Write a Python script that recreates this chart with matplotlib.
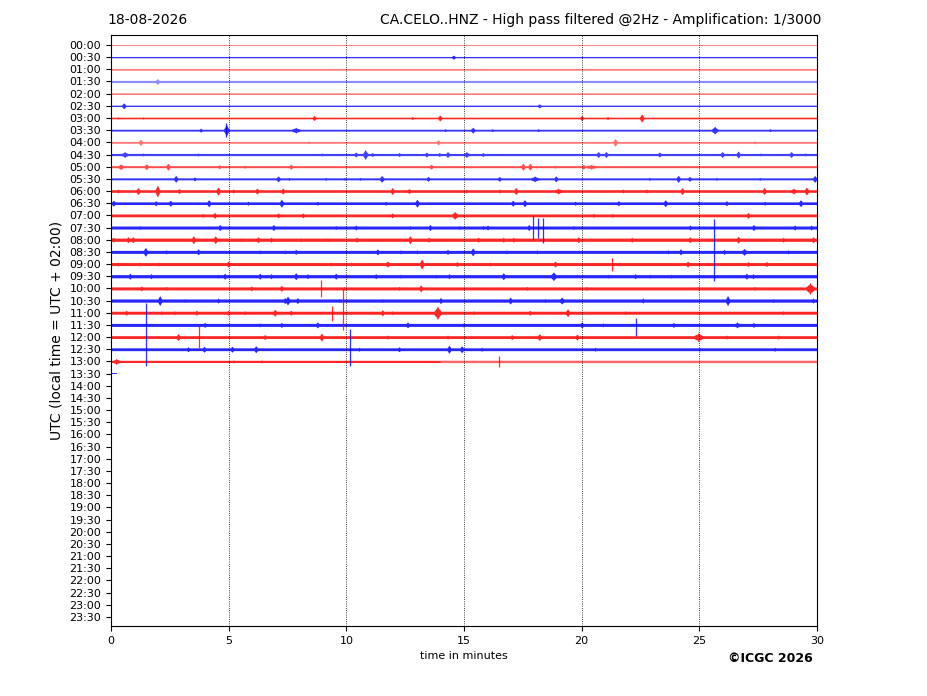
import numpy as np
import matplotlib
matplotlib.use("Agg")
import matplotlib.pyplot as plt

DATE_TEXT = "18-08-2026"
TITLE_TEXT = "CA.CELO..HNZ - High pass filtered @2Hz - Amplification: 1/3000"
YLABEL = "UTC (local time = UTC + 02:00)"
XLABEL = "time in minutes"
CREDIT = "\u00a9ICGC 2026"

ROW_LABELS = ["%02d:%02d" % (h, m) for h in range(24) for m in (0, 30)]
X_TICKS = [0, 5, 10, 15, 20, 25, 30]
ROW_COLORS = ["#ff0000", "#0000ff"]

# background noise half-amplitude per recorded row (00:00 ... 13:30)
ROW_NOISE = [0.5, 0.6, 0.9, 1.1, 0.8, 0.7, 0.8, 0.9, 0.9, 1.1, 1.0, 1.0, 1.3, 1.3,
             1.4, 1.5, 1.6, 1.5, 1.5, 1.6, 1.5, 1.6, 1.5, 1.5, 1.4, 1.4, 1.1, 0.8]
ROW_ALPHA = [0.5, 0.85, 0.5, 0.45, 0.55, 0.8, 0.85, 0.8, 0.55, 0.75, 0.7, 0.8, 0.85, 0.85,
             0.85, 0.85, 0.85, 0.85, 0.85, 0.85, 0.85, 0.85, 0.85, 0.85, 0.85, 0.85, 0.85, 0.8]
ROW_END = [30.0] * 27 + [0.25]
QUIET_13_00 = (14.0, 1.2, 0.6)   # row 13:00: quieter/paler after this minute

# events: (minute, half-amplitude, duration in minutes)
EV_0000 = []
EV_0030 = [(14.55, 2.0, 0.15)]
EV_0100 = []
EV_0130 = [(1.97, 3.0, 0.2)]
EV_0200 = []
EV_0230 = [(0.54, 3.0, 0.2), (18.2, 2.0, 0.1)]
EV_0300 = [(0.3, 1.2, 0.1), (1.36, 1.2, 0.1), (8.63, 2.5, 0.15), (12.8, 1.5, 0.1),
           (13.97, 3.0, 0.2), (20.0, 2.5, 0.2), (21.1, 1.5, 0.2), (22.55, 4.0, 0.15)]
EV_0330 = [(3.81, 2.0, 0.12), (4.9, 6.0, 0.3), (7.85, 3.0, 0.6), (14.2, 1.5, 0.15),
           (15.37, 3.0, 0.3), (16.2, 1.5, 0.2), (18.15, 1.5, 0.2), (25.65, 4.0, 0.4),
           (28.0, 1.5, 0.1)]
EV_0400 = [(1.25, 3.0, 0.2), (8.4, 1.5, 0.2), (13.9, 2.5, 0.2), (21.42, 4.0, 0.15),
           (27.35, 1.5, 0.4)]
EV_0430 = [(0.58, 3.0, 0.5), (1.36, 1.5, 0.1), (3.7, 1.5, 0.1), (8.97, 1.5, 0.2),
           (10.4, 2.5, 0.15), (10.8, 5.0, 0.3), (11.1, 2.0, 0.15), (12.24, 2.0, 0.3),
           (13.4, 2.5, 0.12), (13.95, 2.0, 0.12), (14.3, 3.0, 0.15), (15.1, 3.0, 0.4),
           (15.8, 2.0, 0.12), (20.7, 3.0, 0.15), (21.03, 3.0, 0.15), (23.3, 2.5, 0.15),
           (25.97, 3.0, 0.15), (26.65, 3.5, 0.15), (27.6, 1.5, 0.15), (28.9, 3.0, 0.15),
           (29.5, 1.5, 0.5)]
EV_0500 = [(0.41, 3.0, 0.4), (1.5, 3.0, 0.15), (2.42, 3.5, 0.15), (4.6, 2.0, 0.1),
           (5.68, 1.5, 0.1), (7.64, 2.5, 0.12), (13.6, 2.5, 0.12), (17.5, 3.5, 0.15),
           (17.8, 3.5, 0.15), (18.87, 1.5, 0.15), (20.07, 2.5, 0.15), (20.4, 2.5, 0.8),
           (24.35, 1.2, 0.1)]
EV_0530 = [(2.75, 3.5, 0.15), (3.55, 2.0, 0.12), (7.1, 3.0, 0.3), (7.56, 1.5, 0.12),
           (9.12, 1.5, 0.12), (9.93, 1.5, 0.12), (10.58, 1.5, 0.12), (11.5, 3.5, 0.3),
           (13.47, 2.5, 0.12), (16.5, 2.5, 0.12), (18.0, 3.0, 0.6), (18.9, 3.0, 0.15),
           (22.88, 1.5, 0.12), (24.1, 3.5, 0.15), (24.58, 2.5, 0.15), (25.73, 1.5, 0.12),
           (27.57, 1.5, 0.12), (29.9, 3.5, 0.15)]
EV_0600 = [(0.3, 2.0, 0.6), (1.15, 3.5, 0.3), (1.97, 6.0, 0.2), (2.89, 2.5, 0.12),
           (3.2, 1.5, 0.12), (4.55, 4.0, 0.15), (5.19, 2.0, 0.4), (6.2, 3.0, 0.15),
           (7.3, 3.0, 0.15), (10.7, 1.5, 0.1), (11.95, 3.5, 0.15), (12.66, 2.5, 0.5),
           (15.1, 2.0, 0.3), (16.5, 2.0, 0.12), (17.2, 3.5, 0.15), (19.0, 3.0, 0.6),
           (21.75, 2.0, 0.3), (22.75, 2.0, 0.5), (24.27, 3.5, 0.15), (27.75, 3.5, 0.15),
           (29.0, 3.0, 0.5), (29.55, 4.0, 0.15)]
EV_0630 = [(0.1, 3.0, 0.15), (1.9, 2.5, 0.12), (2.52, 3.0, 0.15), (3.67, 1.5, 0.12),
           (4.15, 3.5, 0.15), (5.82, 2.0, 0.4), (7.24, 4.0, 0.2), (8.77, 2.0, 0.12),
           (11.67, 2.0, 0.12), (13.0, 4.0, 0.15), (17.07, 3.0, 0.15), (17.57, 3.5, 0.15),
           (19.72, 2.0, 0.5), (21.56, 2.5, 0.15), (23.55, 3.5, 0.15), (24.95, 2.0, 0.12),
           (26.15, 2.5, 0.15), (27.78, 2.0, 0.15), (29.3, 3.5, 0.15)]
EV_0700 = [(1.15, 1.5, 0.12), (3.9, 2.0, 0.4), (4.4, 3.0, 0.15), (7.1, 2.5, 0.15),
           (8.15, 2.5, 0.4), (11.95, 2.5, 0.15), (14.6, 4.0, 0.4), (16.25, 1.5, 0.12),
           (18.8, 1.5, 0.12), (20.5, 2.0, 0.3), (21.3, 2.0, 0.12), (27.07, 3.0, 0.15)]
EV_0730 = [(1.22, 2.0, 0.12), (4.62, 3.0, 0.3), (6.9, 3.0, 0.15), (9.55, 2.0, 0.12),
           (10.4, 2.5, 0.15), (12.7, 2.0, 0.12), (13.55, 3.0, 0.15), (14.8, 2.0, 0.12),
           (15.8, 2.0, 0.12), (16.0, 2.5, 0.12), (17.75, 3.0, 0.15), (19.65, 2.0, 0.12),
           (24.6, 2.5, 0.15), (27.3, 3.0, 0.3), (29.05, 2.5, 0.15), (29.75, 2.5, 0.15)]
EV_0800 = [(0.1, 2.5, 0.4), (0.72, 3.0, 0.12), (0.93, 3.0, 0.12), (3.5, 4.0, 0.15),
           (4.43, 4.0, 0.15), (5.54, 2.0, 0.12), (6.25, 3.0, 0.15), (6.8, 2.5, 0.5),
           (8.06, 2.0, 0.12), (9.2, 2.0, 0.12), (10.44, 2.5, 0.15), (12.7, 4.0, 0.15),
           (13.5, 2.5, 0.15), (15.6, 2.5, 0.5), (16.67, 2.5, 0.15), (17.1, 2.5, 0.15),
           (18.37, 2.0, 0.12), (19.86, 3.0, 0.15), (22.13, 2.5, 0.15), (24.6, 3.0, 0.15),
           (26.65, 3.5, 0.15), (28.56, 2.5, 0.15), (29.83, 3.0, 0.15)]
EV_0830 = [(1.46, 4.5, 0.15), (2.35, 2.0, 0.12), (3.7, 3.0, 0.15), (6.32, 2.0, 0.12),
           (7.38, 2.0, 0.12), (7.85, 2.5, 0.15), (11.32, 3.0, 0.15), (12.3, 2.0, 0.12),
           (13.0, 2.0, 0.12), (14.3, 2.5, 0.15), (15.37, 4.0, 0.15), (16.8, 2.0, 0.12),
           (18.1, 2.0, 0.12), (23.67, 2.0, 0.12), (24.2, 3.0, 0.15), (26.05, 2.5, 0.15),
           (26.9, 3.5, 0.4), (28.77, 2.0, 0.15)]
EV_0900 = [(0.3, 2.0, 0.12), (1.2, 2.0, 0.8), (2.0, 2.0, 0.12), (4.97, 3.0, 0.3),
           (6.6, 1.5, 0.12), (9.34, 2.0, 0.12), (10.2, 2.0, 0.12), (11.75, 3.0, 0.5),
           (13.2, 5.0, 0.15), (14.7, 2.5, 0.15), (16.1, 2.0, 0.12), (18.87, 3.0, 0.15),
           (21.6, 2.0, 0.15), (24.5, 3.0, 0.3), (27.07, 2.5, 0.8), (27.85, 2.5, 0.15)]
EV_0930 = [(0.8, 3.0, 0.15), (1.7, 2.5, 0.12), (4.55, 2.0, 0.3), (4.83, 3.0, 0.15),
           (6.32, 3.0, 0.15), (6.8, 2.5, 0.15), (7.85, 3.5, 0.15), (8.35, 2.5, 0.15),
           (9.55, 3.0, 0.15), (11.25, 2.5, 0.15), (12.3, 2.0, 0.12), (13.8, 2.0, 0.12),
           (14.36, 2.5, 0.15), (16.67, 3.5, 0.15), (18.8, 4.5, 0.4), (21.13, 2.0, 0.12),
           (22.27, 2.5, 0.15), (22.9, 2.0, 0.12), (23.8, 2.0, 0.3), (27.0, 3.0, 0.15),
           (27.28, 2.5, 0.15)]
EV_1000 = [(1.29, 2.5, 0.15), (2.35, 2.0, 0.12), (5.96, 2.5, 0.15), (7.24, 3.0, 0.15),
           (9.9, 2.0, 0.12), (12.24, 2.0, 0.12), (13.16, 3.5, 0.2), (17.67, 2.0, 0.12),
           (20.2, 2.0, 0.5), (24.95, 2.0, 0.12), (27.35, 2.0, 0.15), (29.7, 6.0, 0.5)]
EV_1030 = [(2.07, 5.0, 0.15), (3.13, 2.0, 0.12), (4.55, 2.5, 0.15), (7.38, 3.0, 0.15),
           (7.5, 4.5, 0.3), (7.92, 3.0, 0.15), (9.7, 2.0, 0.12), (11.53, 2.0, 0.12),
           (14.0, 3.0, 0.15), (16.96, 3.5, 0.15), (18.44, 2.0, 0.12), (19.15, 3.5, 0.4),
           (22.6, 2.5, 0.15), (26.2, 5.0, 0.2), (28.13, 2.0, 0.4), (29.83, 2.5, 0.15)]
EV_1100 = [(0.65, 2.5, 0.15), (2.14, 2.0, 0.12), (2.7, 2.0, 0.12), (3.63, 2.5, 0.15),
           (4.97, 2.5, 0.15), (5.68, 2.0, 0.12), (6.96, 3.5, 0.15), (7.64, 2.5, 0.15),
           (11.53, 3.0, 0.15), (11.95, 2.0, 0.12), (13.87, 7.0, 0.4), (15.4, 2.0, 0.12),
           (17.8, 2.5, 0.5), (19.4, 4.0, 0.15), (21.85, 2.0, 0.12), (28.56, 2.0, 0.15)]
EV_1130 = [(3.98, 2.5, 0.15), (6.32, 2.0, 0.12), (7.24, 2.5, 0.15), (8.77, 3.0, 0.15),
           (12.6, 3.0, 0.15), (14.97, 2.0, 0.12), (20.0, 3.0, 0.4), (20.9, 2.0, 0.12),
           (23.9, 2.5, 0.15), (26.6, 3.0, 0.5), (27.3, 2.5, 0.15)]
EV_1200 = [(2.85, 3.5, 0.15), (6.53, 2.5, 0.15), (8.94, 4.0, 0.15), (11.75, 2.0, 0.12),
           (14.3, 2.0, 0.12), (17.03, 2.5, 0.15), (18.2, 3.5, 0.15), (19.8, 3.0, 0.15),
           (24.95, 4.5, 0.6), (26.15, 2.0, 0.12), (28.35, 2.0, 0.12)]
EV_1230 = [(3.27, 2.5, 0.15), (3.95, 3.0, 0.15), (5.14, 3.0, 0.15), (6.15, 3.5, 0.15),
           (10.54, 2.0, 0.12), (12.24, 2.5, 0.15), (14.36, 4.0, 0.15), (14.9, 3.5, 0.15),
           (15.75, 2.0, 0.12), (20.57, 2.0, 0.12), (25.0, 2.0, 0.12), (28.2, 2.0, 0.12)]
EV_1300 = [(0.22, 3.0, 0.5), (5.2, 1.5, 0.12), (6.4, 1.5, 0.12)]
EV_1330 = []

# sharp single spikes: (row, minute, extent up, extent down)
SPIKE_ROWS = [7, 15, 15, 15, 17, 18, 20, 22, 22, 23, 23, 24, 25, 26]
SPIKE_MINUTES = [4.9, 17.93, 18.13, 18.35, 25.63, 21.28, 8.94, 9.38, 9.87, 1.5, 22.3,
                 3.73, 10.14, 16.5]
SPIKE_UP = [7, 12, 10, 10, 33, 6, 8, 7, 24, 22, 7, 11, 20, 5]
SPIKE_DOWN = [7, 11, 10, 15, 29, 7, 9, 8, 17, 41, 11, 11, 17, 6]

ROW_EVENTS = [EV_0000, EV_0030, EV_0100, EV_0130, EV_0200, EV_0230, EV_0300, EV_0330,
              EV_0400, EV_0430, EV_0500, EV_0530, EV_0600, EV_0630, EV_0700, EV_0730,
              EV_0800, EV_0830, EV_0900, EV_0930, EV_1000, EV_1030, EV_1100, EV_1130,
              EV_1200, EV_1230, EV_1300, EV_1330]

AMP = 1.0 / 12.17  # amplitude units -> row spacing
PEAK_W = 0.24       # width of the sharp central peak of each event (minutes)

W, H = 927, 696
fig = plt.figure(figsize=(W / 100, H / 100), dpi=100)
ax = fig.add_axes([111 / W, 1 - 626 / H, 706 / W, 591 / H])

t_all = np.linspace(0, 30, 7061)
for i, evs in enumerate(ROW_EVENTS):
    col = ROW_COLORS[i % 2]
    tt = t_all[t_all <= ROW_END[i] + 1e-9]
    env = np.full_like(tt, ROW_NOISE[i])
    if i == 26:
        env[tt > QUIET_13_00[0]] = QUIET_13_00[1]
    for (m, a, w) in evs:
        d = np.abs(tt - m)
        peak = a * np.clip(1 - d / (PEAK_W / 2), 0, 1)
        env = np.maximum(env, peak)
        if w > 0.2:
            band = 0.6 * a * np.clip(1.4 * (1 - d / (w / 2)), 0, 1)
            env = np.maximum(env, band)
    env = env * AMP
    if i == 26:
        loud = tt <= QUIET_13_00[0]
        ax.fill_between(tt[loud], i - env[loud], i + env[loud], color=col,
                        alpha=ROW_ALPHA[i], linewidth=0)
        quiet = ~loud
        ax.fill_between(tt[quiet], i - env[quiet], i + env[quiet], color=col,
                        alpha=QUIET_13_00[2], linewidth=0)
    else:
        ax.fill_between(tt, i - env, i + env, color=col, alpha=ROW_ALPHA[i], linewidth=0)

for r, m, up, dn in zip(SPIKE_ROWS, SPIKE_MINUTES, SPIKE_UP, SPIKE_DOWN):
    ax.vlines(m, r - up * AMP, r + dn * AMP, color=ROW_COLORS[r % 2], linewidth=0.9,
              alpha=0.8)

ax.set_xlim(0, 30)
ax.set_ylim(47.74, -0.82)
ax.set_xticks(X_TICKS)
ax.set_xticklabels([str(x) for x in X_TICKS])
ax.set_yticks(range(len(ROW_LABELS)))
ax.set_yticklabels(ROW_LABELS)
ax.tick_params(labelsize=8)
for x in X_TICKS[1:-1]:
    ax.axvline(x, color="black", linestyle=":", linewidth=0.6)
ax.set_xlabel(XLABEL, fontsize=8)
ax.set_ylabel(YLABEL, fontsize=10)

fig.text(107 / W, 1 - 20 / H, DATE_TEXT, fontsize=10, ha="left", va="center")
fig.text(821 / W, 1 - 20 / H, TITLE_TEXT, fontsize=10, ha="right", va="center")
fig.text(770 / W, 1 - 658 / H, CREDIT, fontsize=9, fontweight="bold", ha="center",
         va="center")

fig.savefig("out.png", dpi=100)
